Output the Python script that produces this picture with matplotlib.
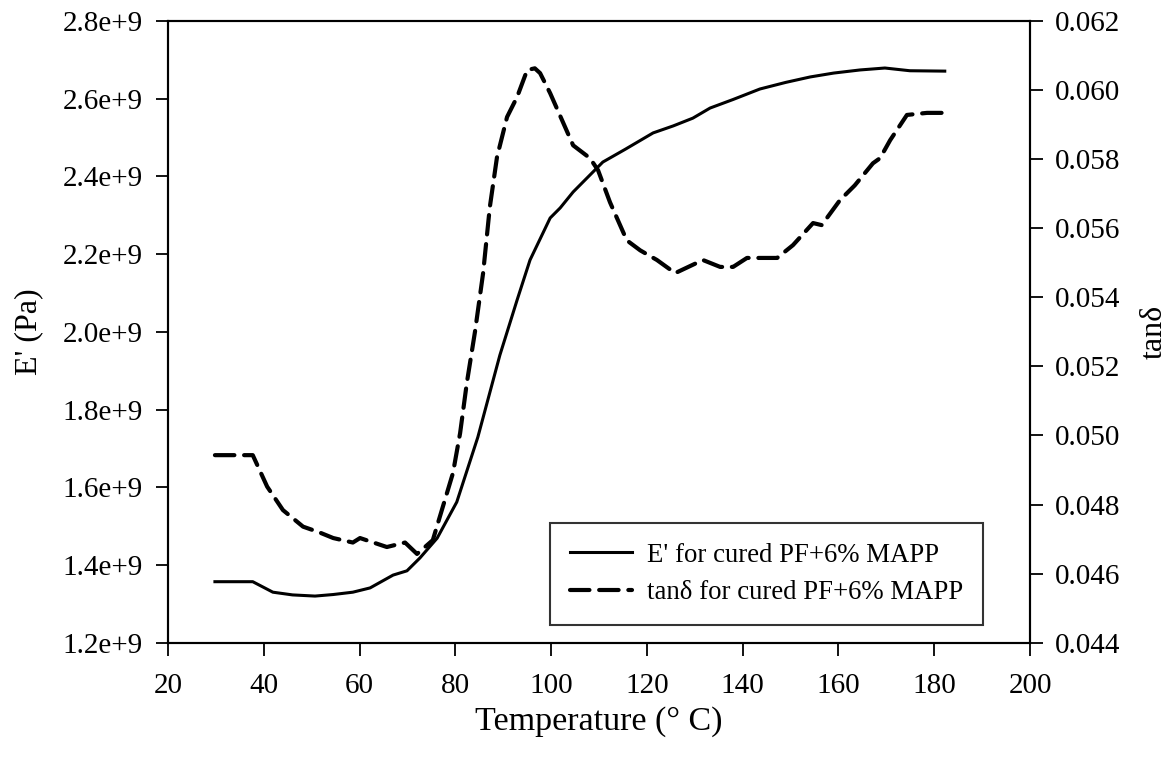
import matplotlib
matplotlib.use("Agg")
import matplotlib.pyplot as plt

plt.rcParams['font.family'] = ['Liberation Serif', 'DejaVu Serif']
plt.rcParams['lines.scale_dashes'] = False

# E' (storage modulus) data
temp_E = [29.8, 37.7, 41.9, 46.0, 50.7, 54.5, 58.6, 62.2, 67.0, 69.9, 72.6, 76.2,
          80.3, 84.7, 89.3, 92.9, 95.6, 99.8, 101.9, 104.6, 110.8, 115.5, 121.3,
          125.5, 129.6, 133.2, 138.0, 143.6, 149.0, 154.1, 159.0, 164.5, 169.7,
          174.9, 182.2]
E_mod = [1.357e9, 1.357e9, 1.330e9, 1.323e9, 1.320e9, 1.324e9, 1.330e9, 1.341e9,
         1.374e9, 1.385e9, 1.418e9, 1.469e9, 1.562e9, 1.729e9, 1.940e9, 2.082e9,
         2.185e9, 2.293e9, 2.319e9, 2.360e9, 2.437e9, 2.470e9, 2.512e9, 2.530e9,
         2.550e9, 2.576e9, 2.598e9, 2.625e9, 2.642e9, 2.656e9, 2.666e9, 2.674e9,
         2.679e9, 2.672e9, 2.671e9]

# tan delta data
temp_tan = [29.8, 37.7, 40.7, 44.0, 48.2, 51.5, 54.5, 58.6, 60.1, 65.7, 69.5, 72.0,
            75.3, 77.4, 79.5, 81.0, 82.4, 84.1, 85.8, 87.2, 88.7, 90.8, 92.9, 95.0,
            96.6, 97.7, 99.8, 101.9, 104.6, 108.1, 109.8, 112.3, 115.8, 118.6,
            122.1, 125.9, 131.7, 135.3, 138.0, 140.9, 147.2, 150.5, 154.7, 156.5,
            160.3, 163.4, 167.2, 168.7, 170.8, 174.3, 178.5, 182.2]
tan_delta = [0.04943, 0.04943, 0.04852, 0.04784, 0.04736, 0.04720, 0.04703, 0.04690,
             0.04703, 0.04677, 0.04690, 0.04657, 0.04697, 0.04794, 0.04891, 0.05007,
             0.05152, 0.05300, 0.05470, 0.05661, 0.05806, 0.05922, 0.05980, 0.06058,
             0.06063, 0.06049, 0.05991, 0.05925, 0.05840, 0.05803, 0.05768, 0.05675,
             0.05565, 0.05536, 0.05508, 0.05470, 0.05508, 0.05488, 0.05488, 0.05514,
             0.05514, 0.05551, 0.05615, 0.05609, 0.05681, 0.05724, 0.05788, 0.05803,
             0.05855, 0.05928, 0.05934, 0.05934]

x_ticks = [20, 40, 60, 80, 100, 120, 140, 160, 180, 200]
left_ticks = [1.2e9, 1.4e9, 1.6e9, 1.8e9, 2.0e9, 2.2e9, 2.4e9, 2.6e9, 2.8e9]
left_labels = ['1.2e+9', '1.4e+9', '1.6e+9', '1.8e+9', '2.0e+9', '2.2e+9',
               '2.4e+9', '2.6e+9', '2.8e+9']
right_ticks = [0.044, 0.046, 0.048, 0.050, 0.052, 0.054, 0.056, 0.058, 0.060, 0.062]
right_labels = ['%.3f' % v for v in right_ticks]

fig = plt.figure(figsize=(11.72, 7.61), dpi=100)
ax = fig.add_axes([168/1172, 1-642.7/761, (1030-168)/1172, (642.7-21)/761])
ax2 = ax.twinx()

l1, = ax.plot(temp_E, E_mod, color='black', lw=2.2, solid_joinstyle='round')
l2, = ax2.plot(temp_tan, tan_delta, color='black', lw=3.0, dashes=(14, 7),
               dash_capstyle='round')

ax.set_xlim(20, 200)
ax.set_ylim(1.2e9, 2.8e9)
ax2.set_ylim(0.044, 0.062)
ax.set_xticks(x_ticks)
ax.set_yticks(left_ticks)
ax.set_yticklabels(left_labels)
ax2.set_yticks(right_ticks)
ax2.set_yticklabels(right_labels)

fs = 21
for a in (ax, ax2):
    a.tick_params(direction='out', length=9, width=1.3, labelsize=fs, pad=9)
    for s in a.spines.values():
        s.set_linewidth(1.5)
ax.tick_params(axis='x', pad=13)

ax.set_xlabel('Temperature (° C)', fontsize=24.5, labelpad=5)
ax.set_ylabel("E' (Pa)", fontsize=23, labelpad=14)
ax2.set_ylabel('tanδ', fontsize=23, labelpad=14)

leg = ax2.legend([l1, l2], ["E' for cured PF+6% MAPP", 'tanδ for cured PF+6% MAPP'],
                 loc='lower right', bbox_to_anchor=(983/1172, 1-625/761),
                 bbox_transform=fig.transFigure, fontsize=19.3, fancybox=False,
                 framealpha=1, edgecolor='#333333', handlelength=2.3,
                 borderpad=0.75, labelspacing=0.45, handletextpad=0.55,
                 borderaxespad=0)
leg.get_frame().set_linewidth(1.5)

fig.savefig('out.png', dpi=100)
